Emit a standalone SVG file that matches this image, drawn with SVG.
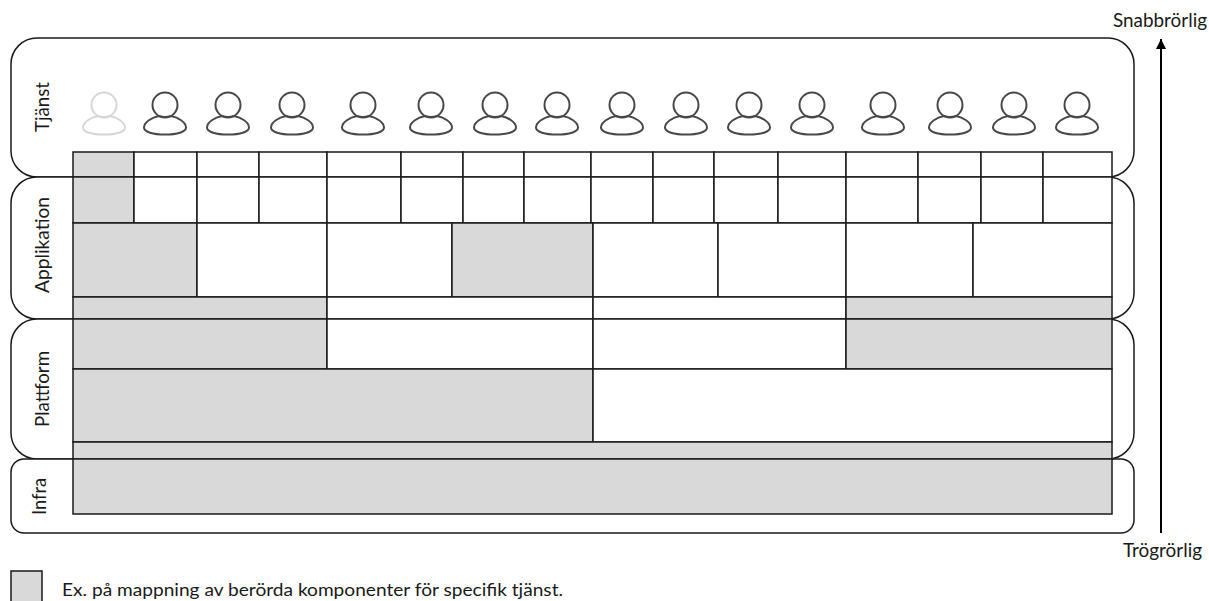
<svg xmlns="http://www.w3.org/2000/svg" width="1209" height="601" viewBox="0 0 1209 601">
<style>
text{font-family:"Lato","Open Sans",sans-serif;font-size:18.5px;fill:#1a1a1a}
.panel{fill:#fff;stroke:#1a1a1a;stroke-width:1.5}
.c{fill:#fff;stroke:#1a1a1a;stroke-width:1.5}
.g{fill:#d9d9d9;stroke:#1a1a1a;stroke-width:1.5}
.p{fill:none;stroke:#484848;stroke-width:2}
.pl{fill:none;stroke:#d6d6d6;stroke-width:2}
</style>
<defs>
<g id="person"><circle cx="0" cy="105" r="12.5"/><path d="M-6,116C-13,117.500-21,122-21,127.500C-21,132-12,134.500 0,134.500C12,134.500 21,132 21,127.500C21,122 13,117.500 6,116C3,117-3,117-6,116Z"/></g>
<marker id="ah" markerUnits="userSpaceOnUse" markerWidth="11" markerHeight="10" refX="10" refY="5" orient="auto"><path d="M0,0L10,5L0,10Z" fill="#000"/></marker>
</defs>
<g id="panel-tjanst"><rect class="panel" x="11" y="38" width="1123" height="139" rx="26" ry="26"/><text transform="translate(49,107) rotate(-90)" text-anchor="middle" textLength="50" lengthAdjust="spacingAndGlyphs">Tjänst</text></g>
<g id="panel-applikation"><rect class="panel" x="11" y="177" width="1123" height="142" rx="26" ry="26"/><text transform="translate(49,245) rotate(-90)" text-anchor="middle" textLength="96" lengthAdjust="spacingAndGlyphs">Applikation</text></g>
<g id="panel-plattform"><rect class="panel" x="11" y="319" width="1123" height="140" rx="26" ry="26"/><text transform="translate(49,389) rotate(-90)" text-anchor="middle" textLength="76" lengthAdjust="spacingAndGlyphs">Plattform</text></g>
<g id="panel-infra"><rect class="panel" x="11" y="459" width="1123" height="74" rx="13" ry="13"/><text transform="translate(46,496.500) rotate(-90)" text-anchor="middle" textLength="37" lengthAdjust="spacingAndGlyphs">Infra</text></g>
<g id="people">
<use href="#person" class="pl" x="104"/>
<use href="#person" class="p" x="165"/><use href="#person" class="p" x="228"/><use href="#person" class="p" x="292"/><use href="#person" class="p" x="363"/><use href="#person" class="p" x="431"/><use href="#person" class="p" x="495"/><use href="#person" class="p" x="557"/><use href="#person" class="p" x="622"/><use href="#person" class="p" x="686"/><use href="#person" class="p" x="749"/><use href="#person" class="p" x="812"/><use href="#person" class="p" x="883"/><use href="#person" class="p" x="950"/><use href="#person" class="p" x="1014"/><use href="#person" class="p" x="1077"/>
</g>
<g id="grid-row1">
<rect class="g" x="73" y="152" width="61" height="25"/><rect class="c" x="134" y="152" width="63" height="25"/><rect class="c" x="197" y="152" width="62" height="25"/><rect class="c" x="259" y="152" width="68" height="25"/><rect class="c" x="327" y="152" width="74" height="25"/><rect class="c" x="401" y="152" width="62" height="25"/><rect class="c" x="463" y="152" width="61" height="25"/><rect class="c" x="524" y="152" width="67" height="25"/><rect class="c" x="591" y="152" width="62" height="25"/><rect class="c" x="653" y="152" width="61" height="25"/><rect class="c" x="714" y="152" width="64" height="25"/><rect class="c" x="778" y="152" width="68" height="25"/><rect class="c" x="846" y="152" width="72" height="25"/><rect class="c" x="918" y="152" width="63" height="25"/><rect class="c" x="981" y="152" width="62" height="25"/><rect class="c" x="1043" y="152" width="69" height="25"/>
</g>
<g id="grid-row2">
<rect class="g" x="73" y="177" width="61" height="46"/><rect class="c" x="134" y="177" width="63" height="46"/><rect class="c" x="197" y="177" width="62" height="46"/><rect class="c" x="259" y="177" width="68" height="46"/><rect class="c" x="327" y="177" width="74" height="46"/><rect class="c" x="401" y="177" width="62" height="46"/><rect class="c" x="463" y="177" width="61" height="46"/><rect class="c" x="524" y="177" width="67" height="46"/><rect class="c" x="591" y="177" width="62" height="46"/><rect class="c" x="653" y="177" width="61" height="46"/><rect class="c" x="714" y="177" width="64" height="46"/><rect class="c" x="778" y="177" width="68" height="46"/><rect class="c" x="846" y="177" width="72" height="46"/><rect class="c" x="918" y="177" width="63" height="46"/><rect class="c" x="981" y="177" width="62" height="46"/><rect class="c" x="1043" y="177" width="69" height="46"/>
</g>
<g id="grid-row3">
<rect class="g" x="73" y="223" width="124" height="74"/><rect class="c" x="197" y="223" width="130" height="74"/><rect class="c" x="327" y="223" width="125" height="74"/><rect class="g" x="452" y="223" width="141" height="74"/><rect class="c" x="593" y="223" width="125" height="74"/><rect class="c" x="718" y="223" width="128" height="74"/><rect class="c" x="846" y="223" width="127" height="74"/><rect class="c" x="973" y="223" width="139" height="74"/>
</g>
<g id="grid-row4">
<rect class="g" x="73" y="297" width="254" height="22"/><rect class="c" x="327" y="297" width="266" height="22"/><rect class="c" x="593" y="297" width="253" height="22"/><rect class="g" x="846" y="297" width="266" height="22"/>
</g>
<g id="grid-row5">
<rect class="g" x="73" y="319" width="254" height="50"/><rect class="c" x="327" y="319" width="266" height="50"/><rect class="c" x="593" y="319" width="253" height="50"/><rect class="g" x="846" y="319" width="266" height="50"/>
</g>
<g id="grid-row6">
<rect class="g" x="73" y="369" width="520" height="73"/><rect class="c" x="593" y="369" width="519" height="73"/>
</g>
<g id="grid-row7"><rect class="g" x="73" y="442" width="1039" height="17"/></g>
<g id="grid-row8"><rect class="g" x="73" y="459" width="1039" height="55"/></g>
<g id="connectors"><line x1="1161" y1="533" x2="1161" y2="39" stroke="#000" stroke-width="2" marker-end="url(#ah)"/></g>
<g id="label-snabb"><text x="1113" y="27" textLength="94" lengthAdjust="spacingAndGlyphs">Snabbrörlig</text></g>
<g id="label-trog"><text x="1123" y="557" textLength="79" lengthAdjust="spacingAndGlyphs">Trögrörlig</text></g>
<g id="legend"><rect class="g" x="11" y="571" width="31" height="40"/><text x="62" y="596" textLength="501" lengthAdjust="spacingAndGlyphs" style="font-size:18px">Ex. på mappning av berörda komponenter för specifik tjänst.</text></g>
</svg>
